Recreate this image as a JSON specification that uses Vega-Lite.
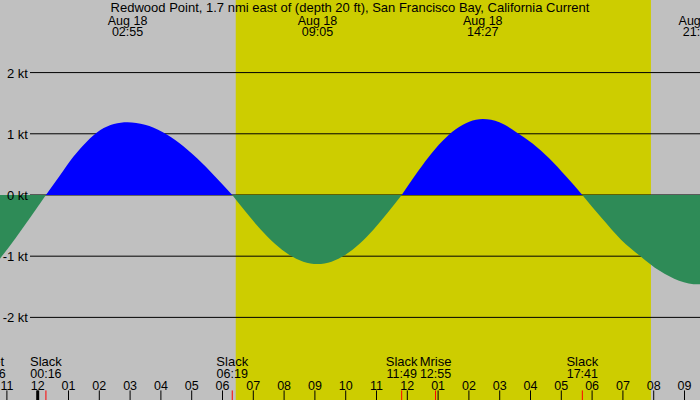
{
  "$schema": "https://vega.github.io/schema/vega-lite/v6.json",
  "width": 700,
  "height": 400,
  "padding": 0,
  "autosize": {"type": "none"},
  "background": "#C0C0C0",
  "config": {
    "view": {"stroke": null},
    "text": {"font": "Liberation Sans", "fontSize": 13, "color": "black"}
  },
  "datasets": {
    "sun": [{"rise": 6.43, "set": 19.91}],
    "levels": [
      {"kt": 2, "lab": "2 kt"},
      {"kt": 1, "lab": "1 kt"},
      {"kt": 0, "lab": "0 kt"},
      {"kt": -1, "lab": "-1 kt"},
      {"kt": -2, "lab": "-2 kt"}
    ],
    "flow": [
      {"seg": "e0", "type": "ebb", "h": -1.224, "v": -1.04},
      {"seg": "e0", "type": "ebb", "h": -0.727, "v": -0.71},
      {"seg": "e0", "type": "ebb", "h": -0.23, "v": -0.36},
      {"seg": "e0", "type": "ebb", "h": 0.267, "v": 0},
      {"seg": "f1", "type": "flood", "h": 0.267, "v": 0},
      {"seg": "f1", "type": "flood", "h": 0.709, "v": 0.31},
      {"seg": "f1", "type": "flood", "h": 1.15, "v": 0.62},
      {"seg": "f1", "type": "flood", "h": 1.592, "v": 0.87},
      {"seg": "f1", "type": "flood", "h": 2.034, "v": 1.06},
      {"seg": "f1", "type": "flood", "h": 2.475, "v": 1.16},
      {"seg": "f1", "type": "flood", "h": 2.917, "v": 1.19},
      {"seg": "f1", "type": "flood", "h": 3.483, "v": 1.149},
      {"seg": "f1", "type": "flood", "h": 4.05, "v": 1.031},
      {"seg": "f1", "type": "flood", "h": 4.617, "v": 0.841},
      {"seg": "f1", "type": "flood", "h": 5.183, "v": 0.595},
      {"seg": "f1", "type": "flood", "h": 5.75, "v": 0.308},
      {"seg": "f1", "type": "flood", "h": 6.317, "v": 0},
      {"seg": "e1", "type": "ebb", "h": 6.317, "v": 0},
      {"seg": "e1", "type": "ebb", "h": 6.778, "v": -0.292},
      {"seg": "e1", "type": "ebb", "h": 7.239, "v": -0.564},
      {"seg": "e1", "type": "ebb", "h": 7.7, "v": -0.797},
      {"seg": "e1", "type": "ebb", "h": 8.161, "v": -0.976},
      {"seg": "e1", "type": "ebb", "h": 8.622, "v": -1.089},
      {"seg": "e1", "type": "ebb", "h": 9.083, "v": -1.127},
      {"seg": "e1", "type": "ebb", "h": 9.539, "v": -1.089},
      {"seg": "e1", "type": "ebb", "h": 9.994, "v": -0.976},
      {"seg": "e1", "type": "ebb", "h": 10.45, "v": -0.797},
      {"seg": "e1", "type": "ebb", "h": 10.906, "v": -0.564},
      {"seg": "e1", "type": "ebb", "h": 11.361, "v": -0.292},
      {"seg": "e1", "type": "ebb", "h": 11.817, "v": 0},
      {"seg": "f2", "type": "flood", "h": 11.817, "v": 0},
      {"seg": "f2", "type": "flood", "h": 12.256, "v": 0.321},
      {"seg": "f2", "type": "flood", "h": 12.694, "v": 0.62},
      {"seg": "f2", "type": "flood", "h": 13.133, "v": 0.877},
      {"seg": "f2", "type": "flood", "h": 13.572, "v": 1.074},
      {"seg": "f2", "type": "flood", "h": 14.011, "v": 1.198},
      {"seg": "f2", "type": "flood", "h": 14.45, "v": 1.24},
      {"seg": "f2", "type": "flood", "h": 14.989, "v": 1.19},
      {"seg": "f2", "type": "flood", "h": 15.528, "v": 1.03},
      {"seg": "f2", "type": "flood", "h": 16.067, "v": 0.84},
      {"seg": "f2", "type": "flood", "h": 16.605, "v": 0.6},
      {"seg": "f2", "type": "flood", "h": 17.144, "v": 0.31},
      {"seg": "f2", "type": "flood", "h": 17.683, "v": 0},
      {"seg": "e2", "type": "ebb", "h": 17.683, "v": 0},
      {"seg": "e2", "type": "ebb", "h": 18.311, "v": -0.378},
      {"seg": "e2", "type": "ebb", "h": 18.939, "v": -0.73},
      {"seg": "e2", "type": "ebb", "h": 19.567, "v": -1.0},
      {"seg": "e2", "type": "ebb", "h": 20.194, "v": -1.24},
      {"seg": "e2", "type": "ebb", "h": 20.822, "v": -1.4},
      {"seg": "e2", "type": "ebb", "h": 21.45, "v": -1.46},
      {"seg": "e2", "type": "ebb", "h": 21.503, "v": -1.46}
    ],
    "peaks": [
      {"h": 2.917, "date": "Aug 18", "time": "02:55"},
      {"h": 9.083, "date": "Aug 18", "time": "09:05"},
      {"h": 14.45, "date": "Aug 18", "time": "14:27"},
      {"h": 21.45, "date": "Aug 18", "time": "21:27"}
    ],
    "events": [
      {"h": -1.55, "name": "Mset", "time": "22:26"},
      {"h": 0.267, "name": "Slack", "time": "00:16"},
      {"h": 6.317, "name": "Slack", "time": "06:19"},
      {"h": 11.817, "name": "Slack", "time": "11:49"},
      {"h": 12.917, "name": "Mrise", "time": "12:55"},
      {"h": 17.683, "name": "Slack", "time": "17:41"}
    ],
    "hours": [
      {"h": -1, "lab": "11"}, {"h": 0, "lab": "12"}, {"h": 1, "lab": "01"},
      {"h": 2, "lab": "02"}, {"h": 3, "lab": "03"}, {"h": 4, "lab": "04"},
      {"h": 5, "lab": "05"}, {"h": 6, "lab": "06"}, {"h": 7, "lab": "07"},
      {"h": 8, "lab": "08"}, {"h": 9, "lab": "09"}, {"h": 10, "lab": "10"},
      {"h": 11, "lab": "11"}, {"h": 12, "lab": "12"}, {"h": 13, "lab": "01"},
      {"h": 14, "lab": "02"}, {"h": 15, "lab": "03"}, {"h": 16, "lab": "04"},
      {"h": 17, "lab": "05"}, {"h": 18, "lab": "06"}, {"h": 19, "lab": "07"},
      {"h": 20, "lab": "08"}, {"h": 21, "lab": "09"}
    ],
    "days": [{"h": 0}],
    "heading": [{"text": "Redwood Point, 1.7 nmi east of (depth 20 ft), San Francisco Bay, California Current"}]
  },
  "layer": [
    {
      "data": {"name": "sun"},
      "mark": {"type": "rect", "color": "#CDCD00"},
      "encoding": {
        "x": {"field": "rise", "type": "quantitative", "axis": null},
        "x2": {"field": "set"}
      }
    },
    {
      "data": {"name": "levels"},
      "mark": {"type": "rule", "color": "black", "strokeWidth": 1},
      "encoding": {
        "y": {"field": "kt", "type": "quantitative", "axis": null},
        "x": {"datum": -0.25, "axis": null},
        "x2": {"datum": 21.503}
      }
    },
    {
      "data": {"name": "flow"},
      "mark": {"type": "area", "interpolate": "monotone"},
      "encoding": {
        "x": {
          "field": "h",
          "type": "quantitative",
          "scale": {"domain": [-1.224, 21.503], "nice": false, "zero": false},
          "axis": null
        },
        "y": {
          "field": "v",
          "type": "quantitative",
          "scale": {"domain": [-3.35, 3.186], "nice": false, "zero": false},
          "axis": null
        },
        "y2": {"datum": 0},
        "color": {
          "field": "type",
          "type": "nominal",
          "scale": {"domain": ["flood", "ebb"], "range": ["#0000FF", "#2E8B57"]},
          "legend": null
        },
        "detail": {"field": "seg"}
      }
    },
    {
      "data": {"name": "levels"},
      "mark": {"type": "text", "align": "right", "baseline": "middle", "dy": 1, "font": "Liberation Sans", "fontSize": 13, "color": "black"},
      "encoding": {
        "y": {"field": "kt", "type": "quantitative", "axis": null},
        "x": {"datum": -0.315, "axis": null},
        "text": {"field": "lab"}
      }
    },
    {
      "data": {"name": "heading"},
      "mark": {"type": "text", "align": "center", "baseline": "middle", "font": "Liberation Sans", "fontSize": 13, "color": "black"},
      "encoding": {
        "x": {"datum": 10.14, "axis": null},
        "y": {"datum": 3.056, "axis": null},
        "text": {"field": "text"}
      }
    },
    {
      "data": {"name": "peaks"},
      "mark": {"type": "text", "align": "center", "baseline": "middle", "font": "Liberation Sans", "fontSize": 12.5, "color": "black"},
      "encoding": {
        "x": {"field": "h", "type": "quantitative", "axis": null},
        "y": {"datum": 2.851, "axis": null},
        "text": {"field": "date"}
      }
    },
    {
      "data": {"name": "peaks"},
      "mark": {"type": "text", "align": "center", "baseline": "middle", "font": "Liberation Sans", "fontSize": 12.5, "color": "black"},
      "encoding": {
        "x": {"field": "h", "type": "quantitative", "axis": null},
        "y": {"datum": 2.67, "axis": null},
        "text": {"field": "time"}
      }
    },
    {
      "data": {"name": "events"},
      "mark": {"type": "text", "align": "center", "baseline": "middle", "font": "Liberation Sans", "fontSize": 13, "color": "black"},
      "encoding": {
        "x": {"field": "h", "type": "quantitative", "axis": null},
        "y": {"datum": -2.737, "axis": null},
        "text": {"field": "name"}
      }
    },
    {
      "data": {"name": "events"},
      "mark": {"type": "text", "align": "center", "baseline": "middle", "font": "Liberation Sans", "fontSize": 12.5, "color": "black"},
      "encoding": {
        "x": {"field": "h", "type": "quantitative", "axis": null},
        "y": {"datum": -2.93, "axis": null},
        "text": {"field": "time"}
      }
    },
    {
      "data": {"name": "hours"},
      "mark": {"type": "text", "align": "center", "baseline": "middle", "font": "Liberation Sans", "fontSize": 12.5, "color": "black"},
      "encoding": {
        "x": {"field": "h", "type": "quantitative", "axis": null},
        "y": {"datum": -3.126, "axis": null},
        "text": {"field": "lab"}
      }
    },
    {
      "data": {"name": "hours"},
      "mark": {"type": "rule", "color": "black", "strokeWidth": 1},
      "encoding": {
        "x": {"field": "h", "type": "quantitative", "axis": null},
        "y": {"datum": -3.194, "axis": null},
        "y2": {"datum": -3.35}
      }
    },
    {
      "data": {"name": "events"},
      "mark": {"type": "rule", "color": "#FF0000", "strokeWidth": 1, "clip": true},
      "encoding": {
        "x": {"field": "h", "type": "quantitative", "axis": null},
        "y": {"datum": -3.194, "axis": null},
        "y2": {"datum": -3.35}
      }
    },
    {
      "data": {"name": "days"},
      "mark": {"type": "rule", "color": "black", "strokeWidth": 3},
      "encoding": {
        "x": {"field": "h", "type": "quantitative", "axis": null},
        "y": {"datum": -3.194, "axis": null},
        "y2": {"datum": -3.35}
      }
    }
  ]
}
